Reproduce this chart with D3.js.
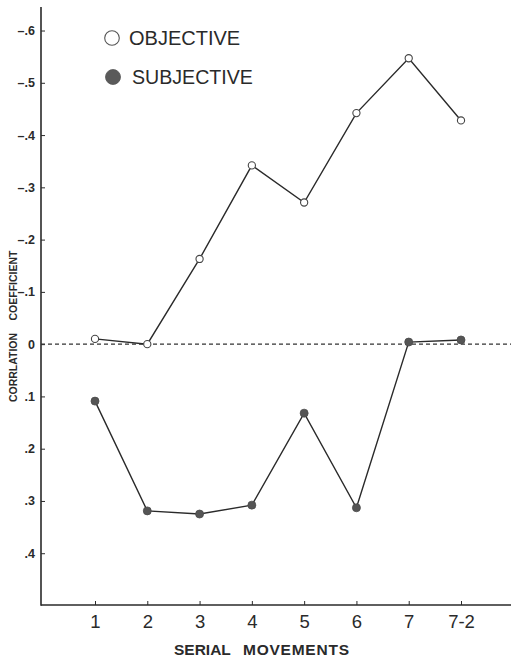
<!DOCTYPE html>
<html>
<head>
<meta charset="utf-8">
<script src="https://cdn.jsdelivr.net/npm/d3@7"></script>
<style>
  html, body { margin: 0; padding: 0; background: #fff; }
  svg { display: block; }
  text { font-family: "Liberation Sans", Arial, Helvetica, sans-serif; fill: #2a2a2a; }
</style>
</head>
<body>
<svg id="chart" width="511" height="657"></svg>
<script>
// ---- data ----
const categories = ["1", "2", "3", "4", "5", "6", "7", "7-2"];
const objective  = [-0.010, 0.000, -0.163, -0.342, -0.271, -0.442, -0.547, -0.428];
const subjective = [0.109, 0.319, 0.325, 0.308, 0.132, 0.313, -0.004, -0.008];
const yTickValues = [-0.6, -0.5, -0.4, -0.3, -0.2, -0.1, 0, 0.1, 0.2, 0.3, 0.4];
const yTickLabels = ["\u2013.6", "\u2013.5", "\u2013.4", "\u2013.3", "\u2013.2", "\u2013.1", "0", ".1", ".2", ".3", ".4"];
const seriesNames = ["OBJECTIVE", "SUBJECTIVE"];

// ---- layout ----
const svg = d3.select("#chart");
const axisX0 = 41, axisX1 = 511, axisY0 = 7, axisY1 = 605;
const ink = "#2a2a2a";

const x = d3.scalePoint().domain(categories).range([95, 461]);
const y = d3.scaleLinear().domain([-0.645, 0.5]).range([axisY0, 605.5]);

// y axis
const yAxis = d3.axisLeft(y)
  .tickValues(yTickValues)
  .tickFormat((d, i) => yTickLabels[i])
  .tickSizeInner(-4).tickSizeOuter(0).tickPadding(6);
const gy = svg.append("g").attr("transform", `translate(${axisX0},0)`).call(yAxis);
gy.select(".domain").remove();
gy.selectAll(".tick line").attr("stroke", ink).attr("stroke-width", 1);
gy.selectAll(".tick text")
  .attr("font-family", "Liberation Sans, Arial, sans-serif")
  .attr("font-size", 12.5).attr("font-weight", "bold").attr("fill", "#333");

// x axis
const xAxis = d3.axisBottom(x).tickSizeInner(-4).tickSizeOuter(0).tickPadding(10);
const gx = svg.append("g").attr("transform", `translate(0,${axisY1})`).call(xAxis);
gx.select(".domain").remove();
gx.selectAll(".tick line").attr("stroke", ink).attr("stroke-width", 1);
gx.selectAll(".tick text")
  .attr("font-family", "Liberation Sans, Arial, sans-serif")
  .attr("font-size", 18.5).attr("fill", "#333");

// axis lines
svg.append("line").attr("x1", axisX0).attr("x2", axisX0).attr("y1", axisY0).attr("y2", axisY1 + 0.7)
  .attr("stroke", ink).attr("stroke-width", 1.6);
svg.append("line").attr("x1", axisX0).attr("x2", axisX1).attr("y1", axisY1).attr("y2", axisY1)
  .attr("stroke", ink).attr("stroke-width", 1.6);

// zero dashed line
svg.append("line").attr("x1", axisX0).attr("x2", axisX1).attr("y1", y(0)).attr("y2", y(0))
  .attr("stroke", "#333").attr("stroke-width", 1.2).attr("stroke-dasharray", "4,3");

// series lines
const line = d3.line().x((d, i) => x(categories[i])).y(d => y(d));
svg.append("path").datum(objective).attr("d", line)
  .attr("fill", "none").attr("stroke", ink).attr("stroke-width", 1.4);
svg.append("path").datum(subjective).attr("d", line)
  .attr("fill", "none").attr("stroke", ink).attr("stroke-width", 1.4);

// markers
svg.selectAll(".obj").data(objective).enter().append("circle")
  .attr("cx", (d, i) => x(categories[i])).attr("cy", d => y(d)).attr("r", 3.6)
  .attr("fill", "#fff").attr("stroke", "#444").attr("stroke-width", 1.1);
svg.selectAll(".subj").data(subjective).enter().append("circle")
  .attr("cx", (d, i) => x(categories[i])).attr("cy", d => y(d)).attr("r", 4)
  .attr("fill", "#555").attr("stroke", "#4a4a4a").attr("stroke-width", 0.8);

// legend
const legend = svg.append("g");
legend.append("circle").attr("cx", 112).attr("cy", 38).attr("r", 7.3)
  .attr("fill", "#fff").attr("stroke", "#555").attr("stroke-width", 1.1);
legend.append("text").attr("x", 129).attr("y", 45).attr("font-size", 20).text(seriesNames[0]);
legend.append("circle").attr("cx", 113).attr("cy", 77).attr("r", 7.5)
  .attr("fill", "#5a5a5a").attr("stroke", "#555").attr("stroke-width", 0.8);
legend.append("text").attr("x", 132).attr("y", 84).attr("font-size", 19.6).text(seriesNames[1]);

// axis titles
svg.append("text").attr("x", 174).attr("y", 654.5).attr("font-size", 15.5).attr("font-weight", "bold")
  .attr("fill", "#333").text("SERIAL");
svg.append("text").attr("x", 243).attr("y", 654.5).attr("font-size", 15.5).attr("font-weight", "bold")
  .attr("fill", "#333").attr("textLength", 106).attr("lengthAdjust", "spacing").text("MOVEMENTS");

svg.append("text").attr("transform", "translate(17.3,367.5) rotate(-90)")
  .attr("text-anchor", "middle").attr("font-size", 10.5).attr("font-weight", "bold")
  .attr("fill", "#333").text("CORRLATION");
svg.append("text").attr("transform", "translate(17.3,285.5) rotate(-90)")
  .attr("text-anchor", "middle").attr("font-size", 10.5).attr("font-weight", "bold")
  .attr("fill", "#333").text("COEFFICIENT");
</script>
</body>
</html>
